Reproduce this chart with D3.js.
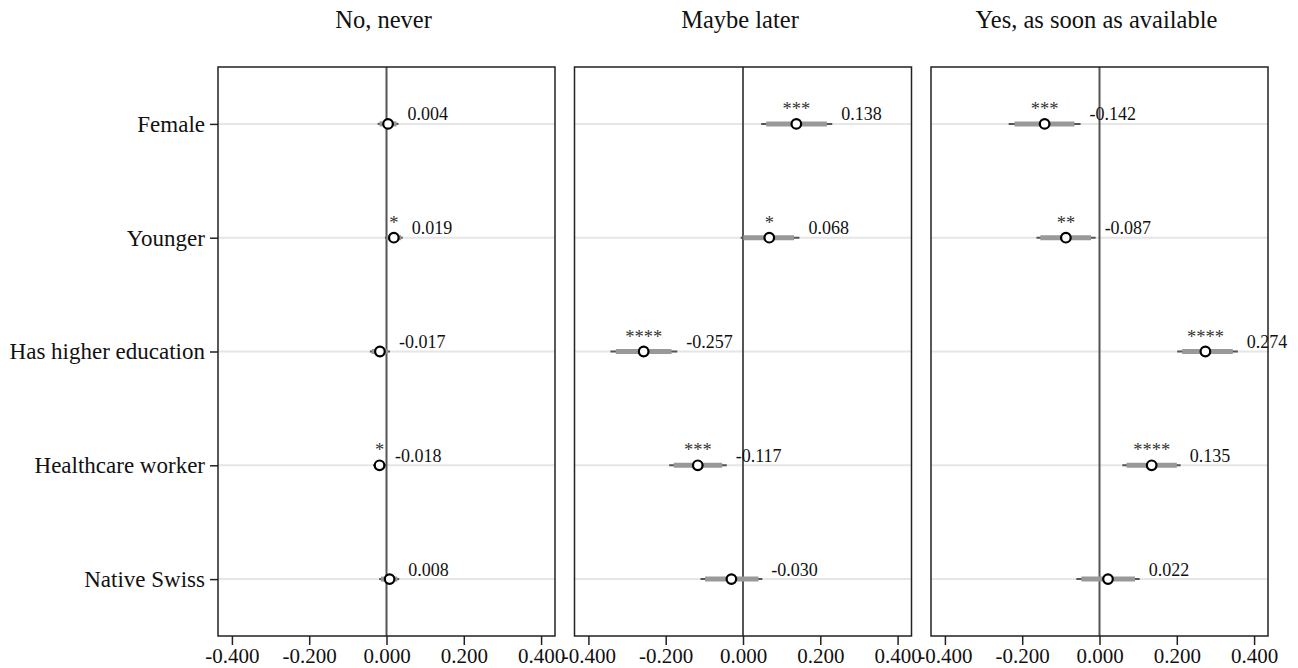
<!DOCTYPE html>
<html>
<head>
<meta charset="utf-8">
<script src="https://cdn.jsdelivr.net/npm/d3@7"></script>
<style>
  html, body { margin: 0; padding: 0; background: #fff; }
  svg { display: block; }
  text { font-family: "Liberation Serif", "Times New Roman", serif; }
</style>
</head>
<body>
<svg id="chart" width="1298" height="668"></svg>
<script>
// ---- Data ----
const categories = ["Female", "Younger", "Has higher education", "Healthcare worker", "Native Swiss"];
const panelTitles = ["No, never", "Maybe later", "Yes, as soon as available"];
const tickValues = [-0.4, -0.2, 0, 0.2, 0.4];

// Panel 1: No, never
const estNever   = [0.004, 0.019, -0.017, -0.018, 0.008];
const lo95Never  = [-0.023, -0.004, -0.043, -0.035, -0.019];
const hi95Never  = [0.031, 0.042, 0.009, -0.001, 0.033];
const lo90Never  = [-0.018, 0.000, -0.038, -0.032, -0.014];
const hi90Never  = [0.026, 0.038, 0.004, -0.004, 0.028];
const starsNever = ["", "*", "", "*", ""];

// Panel 2: Maybe later
const estLater   = [0.138, 0.068, -0.257, -0.117, -0.030];
const lo95Later  = [0.047, -0.006, -0.343, -0.191, -0.110];
const hi95Later  = [0.231, 0.146, -0.170, -0.042, 0.050];
const lo90Later  = [0.060, 0.001, -0.329, -0.179, -0.098];
const hi90Later  = [0.217, 0.132, -0.185, -0.054, 0.040];
const starsLater = ["***", "*", "****", "***", ""];

// Panel 3: Yes, as soon as available
const estYes   = [-0.142, -0.087, 0.274, 0.135, 0.022];
const lo95Yes  = [-0.235, -0.163, 0.201, 0.059, -0.060];
const hi95Yes  = [-0.049, -0.010, 0.358, 0.210, 0.104];
const lo90Yes  = [-0.220, -0.153, 0.214, 0.070, -0.047];
const hi90Yes  = [-0.065, -0.022, 0.345, 0.200, 0.092];
const starsYes = ["***", "**", "****", "****", ""];

const panelData = [
  {est: estNever, lo95: lo95Never, hi95: hi95Never, lo90: lo90Never, hi90: hi90Never, stars: starsNever},
  {est: estLater, lo95: lo95Later, hi95: hi95Later, lo90: lo90Later, hi90: hi90Later, stars: starsLater},
  {est: estYes,   lo95: lo95Yes,   hi95: hi95Yes,   lo90: lo90Yes,   hi90: hi90Yes,   stars: starsYes}
];

// ---- Layout ----
const svg = d3.select("#chart");
svg.append("rect").attr("width", 1298).attr("height", 668).attr("fill", "#fff");

const plotTop = 67, plotBottom = 636;
const panelLeft0 = 218, panelW = 337, panelStep = 356.5;
const fontFam = "\"Liberation Serif\", \"Times New Roman\", serif";

const fmt = d3.formatLocale({decimal: ".", thousands: ",", grouping: [3], currency: ["", ""], minus: "-"}).format(".3f");

const y = d3.scalePoint().domain(categories).range([plotTop, plotBottom]).padding(0.5);

panelData.forEach((pd, pi) => {
  const left = panelLeft0 + pi * panelStep;
  const x = d3.scaleLinear().domain([-0.436, 0.436]).range([left, left + panelW]);
  const g = svg.append("g");

  // title
  g.append("text")
    .attr("x", left + panelW / 2 - 3)
    .attr("y", 28)
    .attr("text-anchor", "middle")
    .attr("font-size", 24.5)
    .attr("fill", "#111")
    .text(panelTitles[pi]);

  // grid lines
  g.selectAll(".grid").data(categories).enter().append("line")
    .attr("x1", left).attr("x2", left + panelW)
    .attr("y1", d => y(d)).attr("y2", d => y(d))
    .attr("stroke", "#e6e6e6").attr("stroke-width", 2);

  // zero line
  g.append("line")
    .attr("x1", x(0)).attr("x2", x(0))
    .attr("y1", plotTop).attr("y2", plotBottom)
    .attr("stroke", "#555").attr("stroke-width", 2);

  const rows = categories.map((c, i) => ({
    c, est: pd.est[i], lo95: pd.lo95[i], hi95: pd.hi95[i], lo90: pd.lo90[i], hi90: pd.hi90[i], star: pd.stars[i]
  }));

  // thin CI
  g.selectAll(".ci95").data(rows).enter().append("line")
    .attr("x1", d => x(d.lo95)).attr("x2", d => x(d.hi95))
    .attr("y1", d => y(d.c)).attr("y2", d => y(d.c))
    .attr("stroke", "#555").attr("stroke-width", 2);

  // thick CI
  g.selectAll(".ci90").data(rows).enter().append("line")
    .attr("x1", d => x(d.lo90)).attr("x2", d => x(d.hi90))
    .attr("y1", d => y(d.c)).attr("y2", d => y(d.c))
    .attr("stroke", "#999").attr("stroke-width", 5);

  // points
  g.selectAll(".pt").data(rows).enter().append("circle")
    .attr("cx", d => x(d.est)).attr("cy", d => y(d.c))
    .attr("r", 4.8)
    .attr("fill", "#fff").attr("stroke", "#000").attr("stroke-width", 2.2);

  // stars
  g.selectAll(".star").data(rows.filter(d => d.star)).enter().append("text")
    .attr("x", d => x(d.est)).attr("y", d => y(d.c) - 9)
    .attr("text-anchor", "middle")
    .attr("font-size", 18.5)
    .attr("fill", "#333")
    .text(d => d.star);

  // value labels
  g.selectAll(".val").data(rows).enter().append("text")
    .attr("x", d => x(d.hi95) + 9).attr("y", d => y(d.c) - 3.5)
    .attr("font-size", 18)
    .attr("fill", "#111")
    .text(d => fmt(d.est));

  // frame
  g.append("rect")
    .attr("x", left).attr("y", plotTop)
    .attr("width", panelW).attr("height", plotBottom - plotTop)
    .attr("fill", "none").attr("stroke", "#222").attr("stroke-width", 1.5);

  // x axis
  const xa = g.append("g").attr("transform", `translate(0,${plotBottom})`)
    .call(d3.axisBottom(x).tickValues(tickValues).tickFormat(fmt).tickSize(9).tickSizeOuter(0).tickPadding(3));
  xa.select(".domain").remove();
  xa.selectAll(".tick line").attr("stroke", "#222").attr("stroke-width", 1.5);
  xa.selectAll(".tick text").attr("font-size", 21).attr("fill", "#111")
    .attr("font-family", fontFam);

  // y axis on first panel
  if (pi === 0) {
    const ya = g.append("g").attr("transform", `translate(${left},0)`)
      .call(d3.axisLeft(y).tickSize(8).tickSizeOuter(0).tickPadding(5));
    ya.select(".domain").remove();
    ya.selectAll(".tick line").attr("stroke", "#222").attr("stroke-width", 1.5);
    ya.selectAll(".tick text").attr("font-size", 23).attr("fill", "#111")
      .attr("font-family", fontFam);
  }
});
</script>
</body>
</html>
